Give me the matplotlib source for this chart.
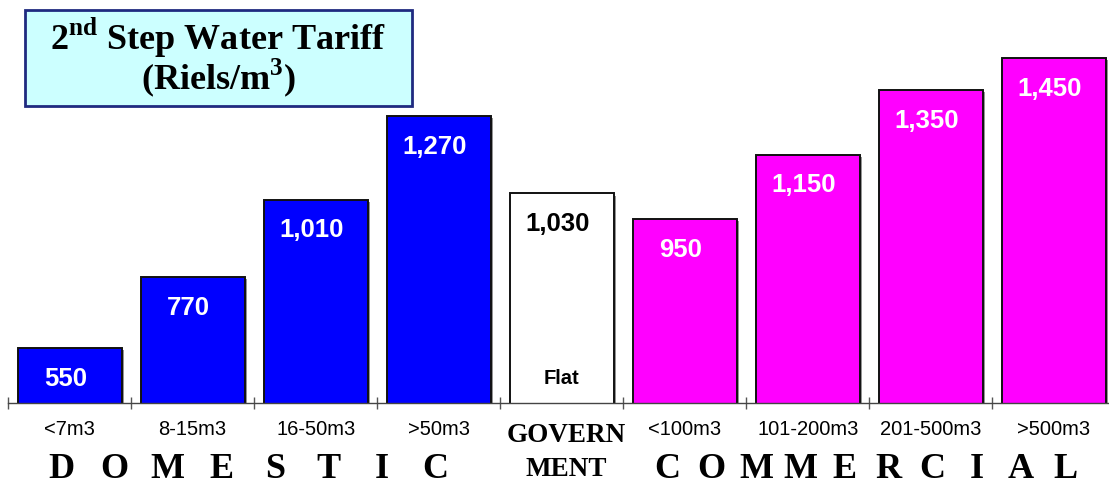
import numpy as np
import matplotlib.pyplot as plt
import matplotlib.patheffects as pe
from matplotlib.patches import Rectangle

plt.rcParams['mathtext.fontset'] = 'custom'
plt.rcParams['mathtext.rm'] = 'Liberation Serif:bold'

# tariff per step (Riels/m3)
categories = ["<7m3", "8-15m3", "16-50m3", ">50m3", "",
              "<100m3", "101-200m3", "201-500m3", ">500m3"]
tariffs = [550, 770, 1010, 1270, 1030, 950, 1150, 1350, 1450]
groups = ["domestic"] * 4 + ["government"] + ["commercial"] * 4
group_colors = {"domestic": "#0000FF", "government": "#FFFFFF", "commercial": "#FF00FF"}
value_labels = ["550", "770", "1,010", "1,270", "1,030", "950", "1,150", "1,350", "1,450"]

W, H = 1109, 487
fig = plt.figure(figsize=(W / 100, H / 100), dpi=100)
base_px = 84
ax = fig.add_axes([8 / W, base_px / H, 9 * 123.06 / W, (H - base_px) / H])

x = np.arange(len(tariffs))
colors = [group_colors[g] for g in groups]
shadow = [pe.SimplePatchShadow(offset=(1.5, -1.5), shadow_rgbFace="#888888", alpha=0.9), pe.Normal()]
bars = ax.bar(x, tariffs, width=0.845, color=colors, edgecolor="#111111", linewidth=1.4)
for b in bars:
    b.set_path_effects(shadow)

ax.set_xlim(-0.5, 8.5)
ax.set_ylim(380, 380 + 403 / 0.3224)

for s in ["top", "right", "left"]:
    ax.spines[s].set_visible(False)
ax.spines["bottom"].set_color("#444444")
ax.spines["bottom"].set_linewidth(1.0)
ax.set_yticks([])

# boundaries between categories get the tick marks, centres get the labels
ax.set_xticks(x)
ax.set_xticklabels(categories, fontsize=14.5, family="Liberation Sans")
ax.tick_params(axis="x", which="major", length=0, pad=12)
ax.set_xticks(np.arange(-0.5, 8.5, 1.0), minor=True)
ax.tick_params(axis="x", which="minor", direction="inout", length=9, width=1, color="#555555")

for i, (v, lab) in enumerate(zip(tariffs, value_labels)):
    col = "black" if groups[i] == "government" else "white"
    ax.annotate(lab, (i, v), xytext=(-3, -22), textcoords="offset points",
                ha="center", va="center", color=col, fontsize=18.5,
                fontweight="bold", family="Liberation Sans")
ax.annotate("Flat", (4, 380), xytext=(0, 18), textcoords="offset points",
            ha="center", va="center", fontsize=14.5, fontweight="bold",
            family="Liberation Sans")

# spaced-out group names below the axis
serif = dict(family="Liberation Serif", fontweight="bold", ha="center", va="center")
for ch, xp in zip("DOMESTIC", np.linspace(-0.07, 2.97, 8)):
    ax.annotate(ch, (xp, 17), xycoords=("data", "figure pixels"), fontsize=26, **serif)
for ch, xp in zip("COMMERCIAL", np.linspace(4.86, 8.09, 10)):
    ax.annotate(ch, (xp, 17), xycoords=("data", "figure pixels"), fontsize=26, **serif)
ax.annotate("GOVERN", (4.04, 51), xycoords=("data", "figure pixels"), fontsize=19.5, **serif)
ax.annotate("MENT", (4.04, 18), xycoords=("data", "figure pixels"), fontsize=19.5, **serif)

# title box
fig.patches.append(Rectangle((25 / W, 1 - 106 / H), 387 / W, 96 / H, transform=fig.transFigure,
                             facecolor="#CCFFFF", edgecolor="#1F2A80", linewidth=2))
fig.text(218 / W, 1 - 38 / H, r"2$^{\mathrm{nd}}$ Step Water Tariff", ha="center", va="center",
         fontsize=26, family="Liberation Serif", fontweight="bold")
fig.text(218 / W, 1 - 78 / H, r"(Riels/m$^{\mathrm{3}}$)", ha="center", va="center",
         fontsize=26, family="Liberation Serif", fontweight="bold")

fig.savefig("out.png", dpi=100)
